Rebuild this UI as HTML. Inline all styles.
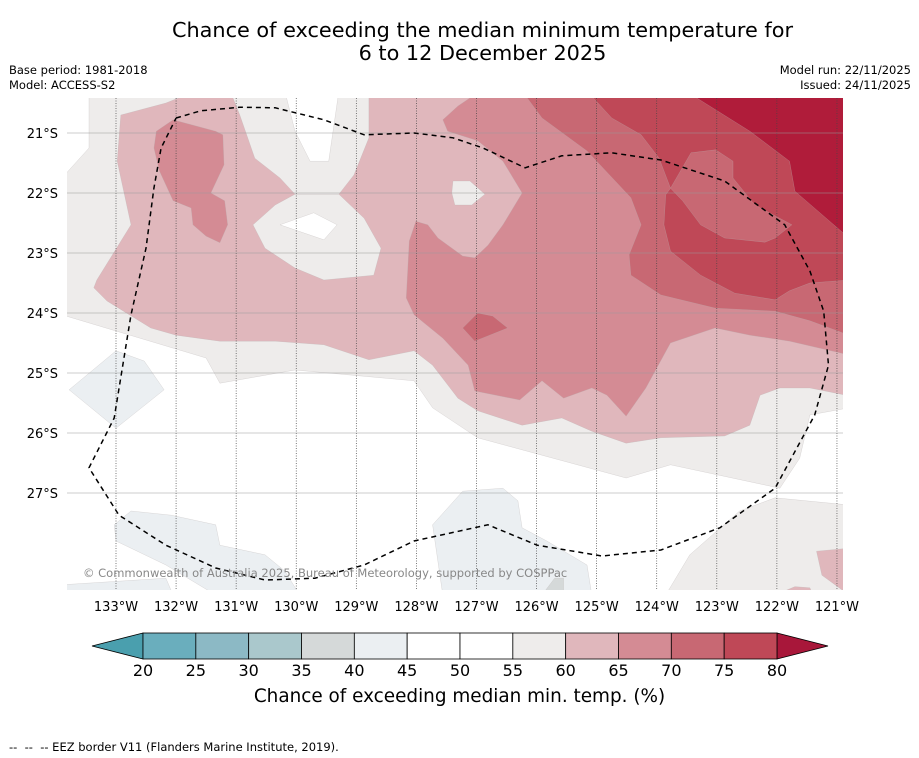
<!DOCTYPE html>
<html><head><meta charset="utf-8">
<style>
body{margin:0;background:#fff;font-family:"DejaVu Sans","Liberation Sans",sans-serif;}
#wrap{position:relative;width:919px;height:758px;overflow:hidden;background:#fff;}
.t{position:absolute;white-space:nowrap;color:#000;}
</style></head>
<body>
<div id="wrap">
<div class="t" style="left:0;width:965px;text-align:center;top:19px;font-size:20.8px;line-height:23px;">Chance of exceeding the median minimum temperature for<br>6 to 12 December 2025</div>
<div class="t" style="left:9px;top:63px;font-size:11.5px;line-height:15px;">Base period: 1981-2018<br>Model: ACCESS-S2</div>
<div class="t" style="right:8px;top:63px;font-size:11.5px;line-height:15px;text-align:right;">Model run: 22/11/2025<br>Issued: 24/11/2025</div>
<svg id="svg" width="919" height="758" style="position:absolute;left:0;top:0"></svg>
<div class="t" style="left:0;width:919px;text-align:center;top:686px;font-size:18.4px;">Chance of exceeding median min. temp. (%)</div>
<div class="t" style="left:9px;top:740px;font-size:11.5px;">--&nbsp; --&nbsp; -- EEZ border V11 (Flanders Marine Institute, 2019).</div>
</div>
<script>
// ---- data ----
const lonTicks=[133,132,131,130,129,128,127,126,125,124,123,122,121];
const latTicks=[21,22,23,24,25,26,27];
const cbLevels=[20,25,30,35,40,45,50,55,60,65,70,75,80];
const cbColors=["#6aaebd","#8cb9c5","#aac8cc","#d5d9d9","#ebeff2","#ffffff","#ffffff","#eeeceb","#e0b7bc","#d48b94","#c86873","#bf4857"];
const cbLow="#4a9fae", cbHigh="#a8173a";
// contour regions [deg W, deg S]
const grey55=[[133.9,20.3],[120.8,20.3],[120.8,25.58],[121.45,25.7],[121.62,26.42],[121.95,26.92],[123.77,26.53],[124.51,26.75],[126.98,26.08],[127.73,25.58],[128.04,25.13],[130.02,24.95],[131.27,25.17],[131.5,24.75],[133,24.3],[133.9,24.03]];
const grey55br=[[123.85,28.7],[123.45,28.03],[122.62,27.3],[122.03,27.08],[120.8,27.2],[120.8,28.7]];
const whiteTL=[[133.9,20.3],[133.45,20.3],[133.45,21.25],[133.9,21.75]];
const whiteTM=[[130.19,20.3],[129.29,20.3],[129.46,21.47],[129.77,21.47],[130.02,20.97]];
const pink60=[[132.92,20.7],[132.17,20.5],[131.67,20.3],[131.1,20.3],[130.94,20.7],[130.69,21.42],[130.27,21.75],[130.02,22.02],[129.29,22.02],[129.04,21.7],[128.79,21.08],[128.79,20.3],[120.8,20.3],[120.8,25.38],[121.45,25.25],[121.95,25.25],[122.28,25.37],[122.45,25.87],[122.87,26.05],[123.93,26.08],[124.51,26.17],[125.08,25.97],[125.58,25.75],[126.24,25.87],[126.98,25.63],[127.31,25.42],[127.73,24.87],[128.04,24.63],[128.79,24.78],[129.54,24.53],[130.35,24.47],[131.27,24.47],[132,24.37],[132.42,24.25],[133.15,23.8],[133.37,23.58],[133.32,23.45],[132.75,22.53],[132.98,21.47]];
const greyHole=[[130.02,22.02],[129.29,22.02],[128.87,22.42],[128.59,22.92],[128.71,23.37],[129.54,23.45],[130.02,23.25],[130.52,22.92],[130.72,22.53],[130.35,22.2]];
const whiteHole=[[129.71,22.33],[129.32,22.53],[129.54,22.78],[130.27,22.53]];
const greySmall=[[127.39,21.8],[127.11,21.8],[126.86,22.02],[127.08,22.2],[127.36,22.2],[127.41,22]];
const pink65L=[[132.33,20.97],[132.05,20.78],[131.34,20.97],[131.22,21.03],[131.2,21.53],[131.42,22],[131.19,22.13],[131.14,22.53],[131.27,22.83],[131.5,22.72],[131.72,22.53],[131.75,22.25],[132.05,22.13],[132.28,21.63],[132.37,21.25]];
const pink65=[[127.56,20.78],[127.31,20.55],[126.94,20.3],[120.8,20.3],[120.8,24.7],[121.79,24.47],[122.45,24.37],[123.03,24.25],[123.77,24.5],[124.18,25.25],[124.51,25.72],[124.83,25.37],[125.08,25.25],[125.55,25.42],[125.91,25.13],[126.28,25.45],[127.03,25.3],[127.14,24.87],[127.56,24.42],[128.04,24.03],[128.17,23.75],[128.12,22.8],[128.01,22.47],[127.81,22.53],[127.64,22.75],[127.23,23.05],[127.03,23.08],[126.81,22.87],[126.56,22.53],[126.24,22],[126.56,21.47],[126.98,21.13],[127.48,20.97]];
const pink70=[[126.24,20.3],[120.8,20.3],[120.8,24.37],[121.45,24.13],[122.03,23.97],[123.02,23.92],[123.93,23.7],[124.43,23.37],[124.46,23.03],[124.26,22.53],[124.43,22.08],[125.16,21.3],[125.91,20.75]];
const pink70b=[[127.23,24.25],[126.98,24],[126.73,24.05],[126.48,24.25],[127.03,24.47]];
const pink75=[[125.16,20.3],[120.8,20.3],[120.8,23.45],[121.45,23.5],[121.79,23.63],[122.03,23.78],[122.7,23.67],[123.27,23.37],[123.77,22.97],[123.88,22.53],[123.85,22.03],[123.77,21.92],[123.96,21.42],[124.26,21.03],[124.75,20.75]];
const hole70=[[123.77,21.92],[123.43,21.33],[123.02,21.28],[122.73,21.47],[122.73,21.75],[122.37,22.2],[121.75,22.53],[122.03,22.75],[122.2,22.82],[122.87,22.75],[123.27,22.53],[123.57,22.13]];
const red80=[[123.52,20.3],[122.45,20.97],[121.79,21.47],[121.7,21.97],[120.8,22.75],[120.8,20.3]];
const blueL=[[133.78,25.28],[133,24.63],[132.53,24.8],[132.2,25.28],[133,25.92]];
const blueBL=[[133.03,27.53],[132.75,27.3],[132.08,27.37],[131.34,27.53],[131.27,27.87],[130.52,28.03],[130.19,28.3],[129.94,28.7],[131.34,28.7],[132.17,28.2],[133,27.8]];
const blueCorner=[[133.9,28.53],[132.17,28.42],[132.05,28.7],[133.9,28.7]];
const blueBM=[[127.73,27.53],[127.23,26.97],[126.56,26.92],[126.31,27.13],[126.24,27.58],[125.83,27.8],[125.16,28.2],[125.08,28.7],[127.56,28.7]];
const grey35=[[125.91,28.7],[125.7,28.42],[125.55,28.42],[125.55,28.7]];
const pinkBR=[[121.34,27.97],[120.8,27.92],[120.8,28.7],[121.25,28.37]];
const pinkBR2=[[122.03,28.7],[121.7,28.56],[121.45,28.58],[121.4,28.7]];
const eez=[[132,20.75],[131.59,20.63],[130.94,20.57],[130.35,20.58],[129.54,20.78],[128.87,21.03],[128.04,21],[127.39,21.08],[126.89,21.25],[126.19,21.58],[125.58,21.38],[124.75,21.33],[123.93,21.45],[122.87,21.8],[121.87,22.53],[121.45,23.3],[121.22,23.97],[121.14,24.87],[121.37,25.7],[122.03,26.92],[122.95,27.58],[123.93,27.95],[124.91,28.05],[125.99,27.87],[126.81,27.53],[128.04,27.8],[128.87,28.2],[129.69,28.42],[130.52,28.45],[131.34,28.25],[132.17,27.87],[132.95,27.37],[133.45,26.58],[133.03,25.75],[132.75,24.03],[132.5,22.92],[132.37,21.92],[132.25,21.25],[132,20.75]];

// ---- axes ----
const X=w=>116+(133-w)*60.08;
const Y=s=>133+(s-21)*60;
const CBX=v=>143+(v-20)*(634/60);
const NS="http://www.w3.org/2000/svg";
const FF="DejaVu Sans, Liberation Sans, sans-serif";
const svg=document.getElementById('svg');
function mk(tag,attrs,parent){const e=document.createElementNS(NS,tag);for(const k in attrs)e.setAttribute(k,attrs[k]);(parent||svg).appendChild(e);return e;}
const pts=a=>a.map(p=>X(p[0]).toFixed(1)+','+Y(p[1]).toFixed(1)).join(' ');

const defs=mk('defs',{});
const cp=mk('clipPath',{id:'mapclip'},defs);
mk('rect',{x:67,y:98,width:776,height:492},cp);
const map=mk('g',{'clip-path':'url(#mapclip)'});


mk('rect',{x:67,y:98,width:776,height:492,fill:'#fff'},map);

const layers=[
 [grey55,'#eeeceb','contour-55-60'],[grey55br,'#eeeceb','contour-55-60-south'],
 [whiteTL,'#ffffff','contour-white-nw'],[whiteTM,'#ffffff','contour-white-north'],
 [pink60,'#e0b7bc','contour-60-65'],[greyHole,'#eeeceb','contour-55-60-hole'],
 [whiteHole,'#ffffff','contour-white-hole'],[greySmall,'#eeeceb','contour-55-60-small'],
 [pink65L,'#d48b94','contour-65-70-west'],[pink65,'#d48b94','contour-65-70'],
 [pink70,'#c86873','contour-70-75'],[pink70b,'#c86873','contour-70-75-small'],
 [pink75,'#bf4857','contour-75-80'],[hole70,'#c86873','contour-70-75-tongue'],
 [red80,'#b01c3a','contour-above-80'],
 [blueL,'#ebeff2','contour-40-45-west'],[blueBL,'#ebeff2','contour-40-45-southwest'],
 [blueCorner,'#ebeff2','contour-40-45-corner'],[blueBM,'#ebeff2','contour-40-45-south'],
 [grey35,'#d5d9d9','contour-35-40'],[pinkBR,'#e0b7bc','contour-60-65-southeast'],[pinkBR2,'#e0b7bc','contour-60-65-south']
];
layers.forEach(l=>{
 const p=mk('polygon',{points:pts(l[0]),fill:l[1],stroke:'#b8b0b0','stroke-width':0.4,'stroke-opacity':0.6},map);
 
 
});
// gridlines
lonTicks.forEach(w=>{
 const l=mk('line',{x1:X(w),x2:X(w),y1:98,y2:590,stroke:'#444','stroke-width':0.7,'stroke-dasharray':'1,1.5'},map);
 
 
 const t=mk('text',{x:X(w),y:611,'font-size':13,'text-anchor':'middle','font-family':FF});
 t.textContent=w+'°W';
 
 
});
latTicks.forEach(s=>{
 const l=mk('line',{x1:67,x2:843,y1:Y(s),y2:Y(s),stroke:'#999','stroke-width':0.6},map);
 
 
 const t=mk('text',{x:58,y:Y(s)+5,'font-size':13,'text-anchor':'end','font-family':FF});
 t.textContent=s+'°S';
 
 
});
const ez=mk('polyline',{points:pts(eez),fill:'none',stroke:'#000','stroke-width':1.5,'stroke-dasharray':'5,4'},map);


const cr=mk('text',{x:83,y:577,'font-size':11.5,fill:'#888','font-family':FF},map);
cr.textContent='© Commonwealth of Australia 2025, Bureau of Meteorology, supported by COSPPac';



// colorbar
const cb=mk('g',{});


const lt=mk('polygon',{points:`${CBX(20)},633 92,646 ${CBX(20)},659`,fill:cbLow,stroke:'#000','stroke-width':0.8},cb);


const rt=mk('polygon',{points:`${CBX(80)},633 828,646 ${CBX(80)},659`,fill:cbHigh,stroke:'#000','stroke-width':0.8},cb);


cbColors.forEach((c,i)=>{
 const r=mk('rect',{x:CBX(cbLevels[i]),y:633,width:CBX(cbLevels[i+1])-CBX(cbLevels[i]),height:26,fill:c,stroke:'#000','stroke-width':0.8},cb);
 
 
});
cbLevels.forEach(v=>{
 const t=mk('text',{x:CBX(v),y:676,'font-size':16,'text-anchor':'middle','font-family':FF},cb);
 t.textContent=v;
 
 
});
</script>
</body></html>
